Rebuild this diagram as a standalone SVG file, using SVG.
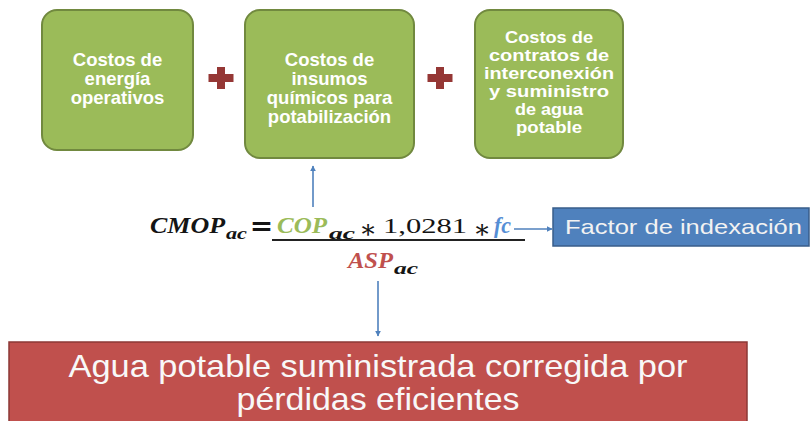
<svg xmlns="http://www.w3.org/2000/svg" width="812" height="421" viewBox="0 0 812 421">
<style>
.gbox{fill:#9BBB59;stroke:#71893F;stroke-width:2}
.gtxt{font-family:"Liberation Sans",Arial,sans-serif;font-weight:bold;font-size:18.5px;fill:#FFFFFF;text-anchor:middle}
.g3{font-size:16px}
.plus{fill:#953735}
.conn{stroke:#4F81BD;stroke-width:1.6;fill:none}
.m{font-family:"Liberation Serif","Times New Roman",serif;font-weight:bold;font-style:italic}
.big{font-size:23px}
.sub{font-size:16px}
.dark{fill:#141414}
.op{font-family:"DejaVu Serif",serif;fill:#141414;text-anchor:middle}
</style>
<defs>
<marker id="ah" viewBox="0 0 10 10" refX="9" refY="5" markerWidth="6" markerHeight="6" orient="auto" markerUnits="userSpaceOnUse">
<path d="M0,0 L10,5 L0,10 z" fill="#4F81BD"/>
</marker>
</defs>
<rect width="812" height="421" fill="#FFFFFF"/>

<g id="node-energia">
<rect class="gbox" x="42" y="10" width="151" height="140" rx="15"/>
<text class="gtxt" x="117.5" y="66">Costos de</text>
<text class="gtxt" x="117.5" y="85">energía</text>
<text class="gtxt" x="117.5" y="104">operativos</text>
</g>

<g id="plus-1">
<rect class="plus" x="208.5" y="74" width="25" height="8"/>
<rect class="plus" x="217" y="67" width="8" height="22"/>
</g>

<g id="node-insumos">
<rect class="gbox" x="245" y="10" width="169" height="148" rx="15"/>
<text class="gtxt" x="329.5" y="66">Costos de</text>
<text class="gtxt" x="329.5" y="85">insumos</text>
<text class="gtxt" x="329.5" y="104">químicos para</text>
<text class="gtxt" x="329.5" y="123">potabilización</text>
</g>

<g id="plus-2">
<rect class="plus" x="427.5" y="74" width="25" height="8"/>
<rect class="plus" x="436" y="67" width="8" height="22"/>
</g>

<g id="node-contratos">
<rect class="gbox" x="475" y="10" width="148" height="148" rx="15"/>
<text class="gtxt g3" x="549" y="43" textLength="88" lengthAdjust="spacingAndGlyphs">Costos de</text>
<text class="gtxt g3" x="549" y="61" textLength="120" lengthAdjust="spacingAndGlyphs">contratos de</text>
<text class="gtxt g3" x="549" y="79" textLength="130" lengthAdjust="spacingAndGlyphs">interconexión</text>
<text class="gtxt g3" x="549" y="97" textLength="120" lengthAdjust="spacingAndGlyphs">y suministro</text>
<text class="gtxt g3" x="549" y="115" textLength="68" lengthAdjust="spacingAndGlyphs">de agua</text>
<text class="gtxt g3" x="549" y="133" textLength="66" lengthAdjust="spacingAndGlyphs">potable</text>
</g>

<g id="formula">
<text class="m big dark" x="150" y="233" textLength="75" lengthAdjust="spacingAndGlyphs">CMOP</text>
<text class="m sub dark" x="226" y="239" textLength="21" lengthAdjust="spacingAndGlyphs">ac</text>
<text class="op" x="261.5" y="235" font-size="28" font-weight="bold">=</text>
<text class="m big" x="277" y="233" fill="#9BBB59" textLength="50" lengthAdjust="spacingAndGlyphs">COP</text>
<text class="m sub dark" x="329" y="239" textLength="26" lengthAdjust="spacingAndGlyphs">ac</text>
<text class="op" x="368" y="238" font-size="26">∗</text>
<text x="383" y="233" font-family="'Liberation Serif',serif" font-size="22" fill="#141414" textLength="84" lengthAdjust="spacingAndGlyphs">1,0281</text>
<text class="op" x="482" y="238" font-size="26">∗</text>
<text class="m big" x="494" y="233" fill="#558ED5" textLength="17" lengthAdjust="spacingAndGlyphs">fc</text>
<line x1="272" y1="240" x2="525" y2="240" stroke="#222222" stroke-width="2"/>
<text class="m big" x="348" y="268" fill="#C0504D" textLength="45" lengthAdjust="spacingAndGlyphs">ASP</text>
<text class="m sub dark" x="394" y="274" textLength="24" lengthAdjust="spacingAndGlyphs">ac</text>
</g>

<g id="connectors">
<line class="conn" x1="313" y1="207" x2="313" y2="166" marker-end="url(#ah)"/>
<line class="conn" x1="514" y1="229" x2="552" y2="229" marker-end="url(#ah)"/>
<line class="conn" x1="378" y1="281" x2="378" y2="336" marker-end="url(#ah)"/>
</g>

<g id="node-factor">
<rect x="553" y="208" width="256" height="38" fill="#4F81BD" stroke="#385D8A" stroke-width="1.5"/>
<text x="565" y="234" font-family="'Liberation Sans',Arial,sans-serif" font-size="21" fill="#F2F2F2" textLength="237" lengthAdjust="spacingAndGlyphs">Factor de indexación</text>
</g>

<g id="node-agua">
<rect x="9" y="342" width="738" height="100" fill="#C0504D" stroke="#8C3836" stroke-width="1.5"/>
<text x="378" y="377" font-family="'Liberation Sans',Arial,sans-serif" font-size="32" fill="#F8F8F8" text-anchor="middle" textLength="619" lengthAdjust="spacingAndGlyphs">Agua potable suministrada corregida por</text>
<text x="378" y="410" font-family="'Liberation Sans',Arial,sans-serif" font-size="32" fill="#F8F8F8" text-anchor="middle" textLength="283" lengthAdjust="spacingAndGlyphs">pérdidas eficientes</text>
</g>
</svg>
